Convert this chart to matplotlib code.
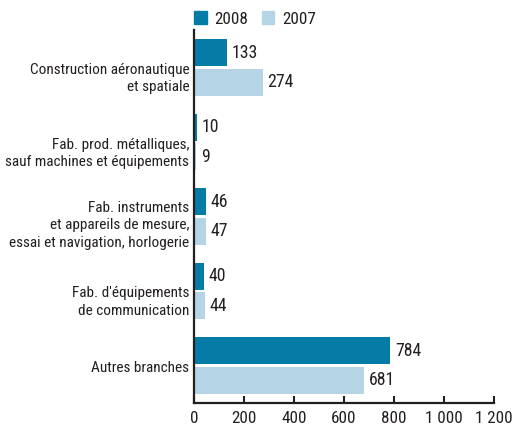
import matplotlib.pyplot as plt
from matplotlib.patches import Patch
from matplotlib.ticker import FuncFormatter

plt.rcParams['font.family'] = ['Roboto Condensed', 'Archivo Narrow', 'DejaVu Sans']

categories = [
    "Construction aéronautique\net spatiale",
    "Fab. prod. métalliques,\nsauf machines et équipements",
    "Fab. instruments\net appareils de mesure,\nessai et navigation, horlogerie",
    "Fab. d'équipements\nde communication",
    "Autres branches",
]
v2008 = [133, 10, 46, 40, 784]
v2007 = [274, 9, 47, 44, 681]
xticks = [0, 200, 400, 600, 800, 1000, 1200]

c2008 = '#047ca6'
c2007 = '#b5d5e6'
txt = '#231f20'

fig = plt.figure(figsize=(5.2, 4.29), dpi=100)
ax = fig.add_axes([194 / 520, 26 / 429, 300 / 520, 373 / 429])

pos = list(range(len(categories)))
h = 0.362
off = 0.2
ax.barh([p - off for p in pos], v2008, height=h, color=c2008)
ax.barh([p + off for p in pos], v2007, height=h, color=c2007)

for p, a, b in zip(pos, v2008, v2007):
    ax.annotate(str(a), (a, p - off), xytext=(3.5, 0), textcoords='offset points',
                va='center', ha='left', fontsize=12.8, color=txt)
    ax.annotate(str(b), (b, p + off), xytext=(3.5, 0), textcoords='offset points',
                va='center', ha='left', fontsize=12.8, color=txt)

# category labels sit a bit below the group centre, as in the original
label_shift = [0.15, 0.15, 0.12, 0.15, 0.03]
for p, lab, s in zip(pos, categories, label_shift):
    ax.annotate(lab, (0, p + s), xytext=(-3.5, 0), textcoords='offset points',
                ha='right', va='center', fontsize=11.0, color=txt, linespacing=1.3,
                multialignment='right', annotation_clip=False)

ax.set_xlim(0, 1200)
ax.set_ylim(4.505, -0.505)
ax.set_yticks([])
ax.set_xticks(xticks)
ax.xaxis.set_major_formatter(FuncFormatter(lambda v, _: f"{int(v):,}".replace(',', ' ')))
ax.tick_params(axis='x', direction='in', length=5, width=1.5, labelsize=12.3,
               labelcolor=txt, color=txt, pad=6)
for s in ['top', 'right']:
    ax.spines[s].set_visible(False)
for s in ['left', 'bottom']:
    ax.spines[s].set_linewidth(1.6)
    ax.spines[s].set_color(txt)

handles = [Patch(color=c2008, label='2008'), Patch(color=c2007, label='2007')]
fig.legend(handles=handles, loc='upper left', bbox_to_anchor=(179 / 520, 1 + 4 / 429),
           ncol=2, frameon=False, fontsize=12.3, handlelength=0.72, handleheight=0.8,
           handletextpad=0.45, columnspacing=0.8, labelcolor=txt)

fig.savefig('out.png', dpi=100)
